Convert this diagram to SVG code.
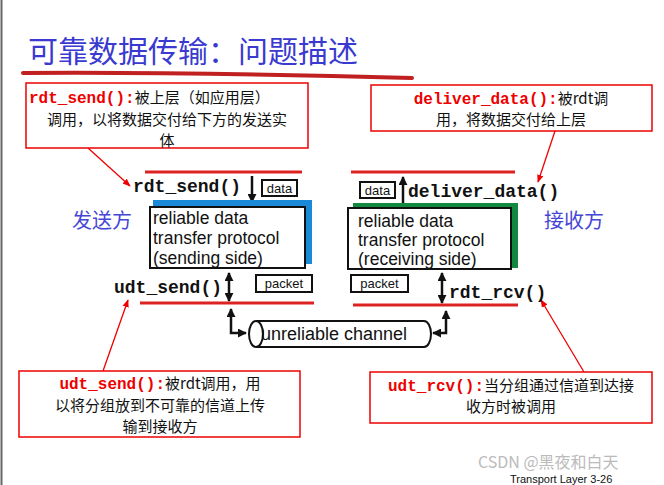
<svg xmlns="http://www.w3.org/2000/svg" width="664" height="485" viewBox="0 0 664 485">
<defs>
<marker id="ah" viewBox="0 0 10 10" refX="9" refY="5" markerWidth="9" markerHeight="9" markerUnits="userSpaceOnUse" orient="auto-start-reverse"><path d="M0,0 L10,5 L0,10 z" fill="#111"/></marker>
<marker id="rh" viewBox="0 0 10 10" refX="9" refY="5" markerWidth="8" markerHeight="8" markerUnits="userSpaceOnUse" orient="auto"><path d="M0,1 L10,5 L0,9 z" fill="#e00"/></marker>
<style>
.cn{font-family:"Noto Sans CJK SC",sans-serif;font-size:15px;fill:#111}
.rf{font-family:"Liberation Mono",monospace;font-weight:bold;font-size:16px;fill:#e00}
.mf{font-family:"Liberation Mono",monospace;font-weight:bold;font-size:18px;fill:#111}
.sf{font-family:"Liberation Sans",sans-serif;fill:#111}
.pt{font-family:"Liberation Sans",sans-serif;font-size:17.5px;fill:#111}
.rbox{fill:#fff;stroke:#e00;stroke-width:1.5}
.rl{stroke:#d22;stroke-width:3}
.bk{fill:none;stroke:#111;stroke-width:2}
.ar{stroke:#111;stroke-width:2.5;fill:none}
.rc{stroke:#e00;stroke-width:1.3;fill:none}
.side{font-family:"Noto Sans CJK SC",sans-serif;font-size:20px;fill:#4646d6}
</style>
</defs>
<rect width="664" height="485" fill="#fff"/>
<line x1="1.5" y1="0" x2="1.5" y2="485" stroke="#666" stroke-width="2"/>
<g id="title">
<text x="28" y="62" font-family="Noto Sans CJK SC,sans-serif" font-size="30" fill="#3a3ad0">可靠数据传输：问题描述</text>
<path d="M23,73 Q200,72 412,78" stroke="#c02020" stroke-width="4" fill="none" stroke-linecap="round"/>
</g>
<g id="connectors">
<line class="rc" x1="88" y1="148" x2="130" y2="186" marker-end="url(#rh)"/>
<line class="rc" x1="103" y1="371" x2="128" y2="300" marker-end="url(#rh)"/>
<line class="rc" x1="555" y1="131" x2="538" y2="182" marker-end="url(#rh)"/>
<line class="rc" x1="584" y1="372" x2="541" y2="300" marker-end="url(#rh)"/>
<line class="ar" x1="252" y1="176" x2="252" y2="202" marker-end="url(#ah)"/>
<line class="ar" x1="229" y1="273" x2="229" y2="301" marker-start="url(#ah)" marker-end="url(#ah)"/>
<path class="ar" d="M231,309 V333 H246" marker-start="url(#ah)" marker-end="url(#ah)"/>
<line class="ar" x1="403" y1="205" x2="403" y2="177" marker-end="url(#ah)"/>
<line class="ar" x1="442" y1="273" x2="442" y2="303" marker-start="url(#ah)" marker-end="url(#ah)"/>
<path class="ar" d="M446,311 V333 H433" marker-start="url(#ah)" marker-end="url(#ah)"/>
</g>
<g id="sender">
<line class="rl" x1="145" y1="172" x2="302" y2="172"/>
<text class="mf" x="133" y="192">rdt_send()</text>
<rect class="bk" x="262" y="180" width="35" height="16"/>
<text class="sf" x="279.5" y="193" font-size="13" text-anchor="middle">data</text>
<rect x="153" y="200" width="159" height="64" fill="#1a8ad8"/>
<rect x="150" y="207" width="155" height="61" fill="#fff" stroke="#111" stroke-width="2"/>
<text class="pt" x="153" y="224">reliable data</text>
<text class="pt" x="153" y="244">transfer protocol</text>
<text class="pt" x="153" y="264">(sending side)</text>
<text class="side" x="72" y="228">发送方</text>
<text class="mf" x="114" y="293">udt_send()</text>
<rect class="bk" x="256" y="275" width="56" height="17"/>
<text class="sf" x="284" y="288" font-size="13" text-anchor="middle">packet</text>
<line class="rl" x1="140" y1="303" x2="314" y2="303"/>
</g>
<g id="channel">
<path d="M256,321 H424 A7,13 0 0 1 424,347 H256" fill="#fff" stroke="#111" stroke-width="2"/>
<ellipse cx="256" cy="334" rx="7" ry="13" fill="#fff" stroke="#111" stroke-width="2"/>
<text class="sf" x="261" y="340" font-size="18">unreliable channel</text>
</g>
<g id="receiver">
<line class="rl" x1="351" y1="172" x2="515" y2="172"/>
<rect class="bk" x="360" y="182" width="35" height="16"/>
<text class="sf" x="377.5" y="195" font-size="13" text-anchor="middle">data</text>
<text class="mf" x="408" y="197">deliver_data()</text>
<rect x="353" y="203" width="165" height="65" fill="#118a40"/>
<rect x="348" y="208" width="163" height="61" fill="#fff" stroke="#111" stroke-width="2"/>
<text class="pt" x="358" y="227">reliable data</text>
<text class="pt" x="358" y="246">transfer protocol</text>
<text class="pt" x="358" y="265">(receiving side)</text>
<text class="side" x="544" y="228">接收方</text>
<rect class="bk" x="351" y="275" width="57" height="17"/>
<text class="sf" x="379.5" y="288" font-size="13" text-anchor="middle">packet</text>
<text class="mf" x="449" y="298">rdt_rcv()</text>
<line class="rl" x1="353" y1="305" x2="518" y2="305"/>
</g>
<g id="note-rdt-send">
<rect class="rbox" x="26" y="83" width="282" height="65"/>
<text x="29" y="103" class="cn"><tspan class="rf">rdt_send():</tspan>被上层（如应用层）</text>
<text x="167" y="125" class="cn" text-anchor="middle">调用，以将数据交付给下方的发送实</text>
<text x="167" y="146" class="cn" text-anchor="middle">体</text>
</g>
<g id="note-deliver">
<rect class="rbox" x="371" y="85" width="281" height="46"/>
<text x="511" y="104" class="cn" text-anchor="middle"><tspan class="rf">deliver_data():</tspan>被rdt调</text>
<text x="511" y="125" class="cn" text-anchor="middle">用，将数据交付给上层</text>
</g>
<g id="note-udt-send">
<rect class="rbox" x="19" y="371" width="281" height="66"/>
<text x="160" y="389" class="cn" text-anchor="middle"><tspan class="rf">udt_send():</tspan>被rdt调用，用</text>
<text x="160" y="411" class="cn" text-anchor="middle">以将分组放到不可靠的信道上传</text>
<text x="160" y="432" class="cn" text-anchor="middle">输到接收方</text>
</g>
<g id="note-udt-rcv">
<rect class="rbox" x="370" y="372" width="282" height="51"/>
<text x="511" y="391" class="cn" text-anchor="middle"><tspan class="rf">udt_rcv():</tspan>当分组通过信道到达接</text>
<text x="511" y="412" class="cn" text-anchor="middle">收方时被调用</text>
</g>
<text x="478" y="468" font-family="Noto Sans CJK SC,sans-serif" font-size="16" fill="#bbb">CSDN @黑夜和白天</text>
<text x="510" y="483" font-family="Liberation Sans,sans-serif" font-size="11" fill="#111">Transport Layer   3-26</text>
</svg>
